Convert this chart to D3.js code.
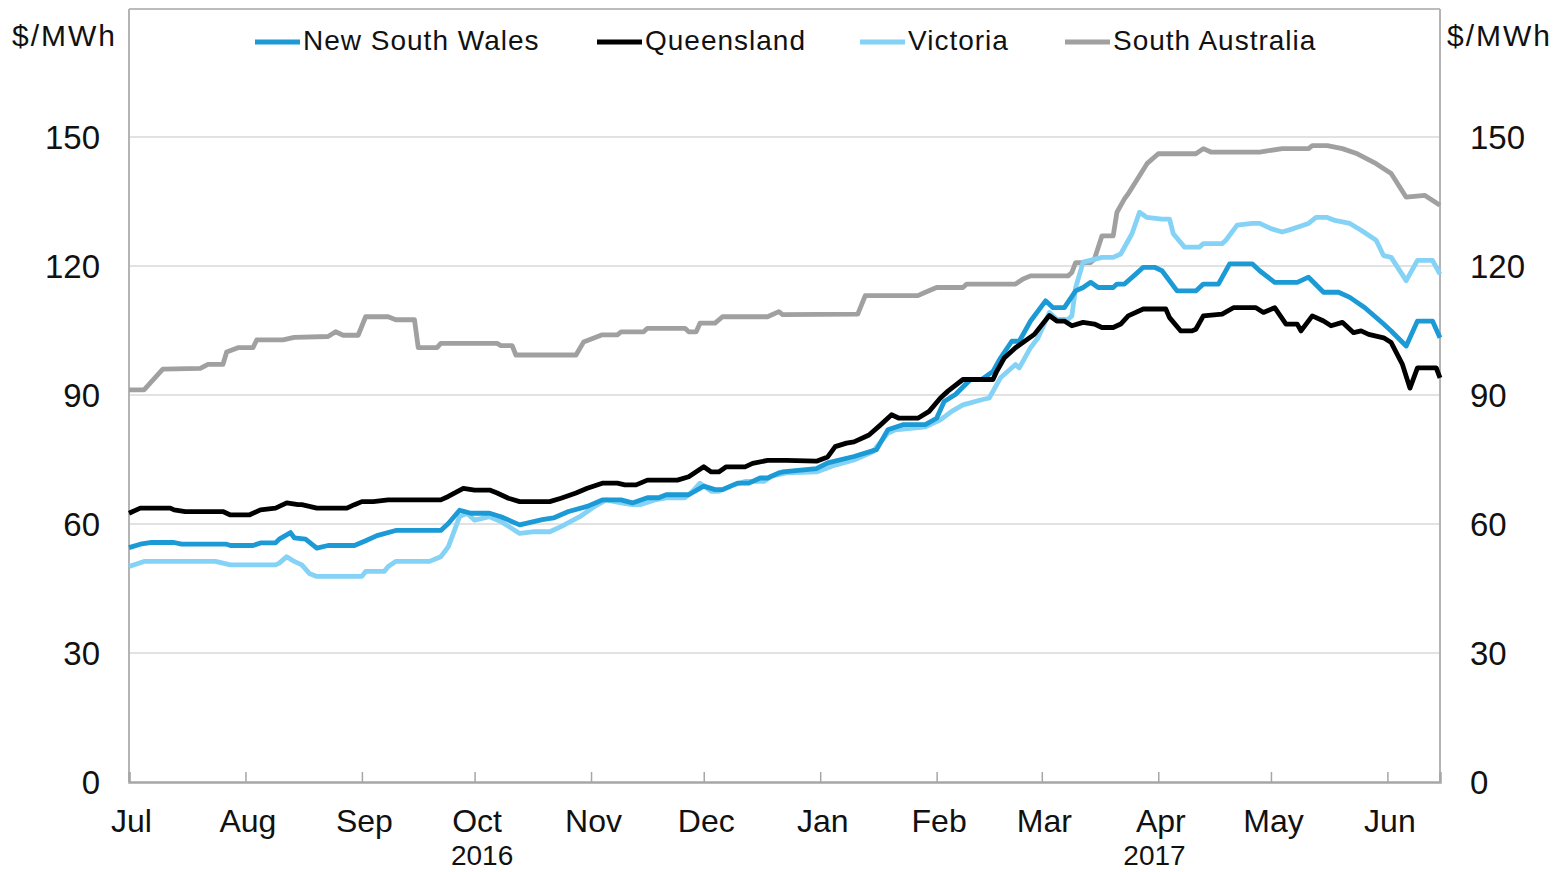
<!DOCTYPE html>
<html>
<head>
<meta charset="utf-8">
<script src="https://cdn.jsdelivr.net/npm/d3@7/dist/d3.min.js"></script>
<style>
html,body{margin:0;padding:0;background:#fff;}
svg{display:block;font-family:"Liberation Sans",Arial,sans-serif;}
</style>
</head>
<body>
<svg id="chart" width="1567" height="872"></svg>
<script>
// ---- data ----
const seriesNames = ["New South Wales", "Queensland", "Victoria", "South Australia"];
const monthLabels = ["Jul","Aug","Sep","Oct","Nov","Dec","Jan","Feb","Mar","Apr","May","Jun"];
const monthTicks = ["2016-07-01","2016-08-01","2016-09-01","2016-10-01","2016-11-01","2016-12-01",
                    "2017-01-01","2017-02-01","2017-03-01","2017-04-01","2017-05-01","2017-06-01"];
const yearLabels = [["2016","2016-10-03"],["2017","2017-03-31"]];
const yTicks = [0,30,60,90,120,150];
const dateDomain = ["2016-07-01","2017-06-15"];

const nsw = [
["2016-07-01",54.5],["2016-07-04",55.3],["2016-07-07",55.7],["2016-07-13",55.7],["2016-07-15",55.3],
["2016-07-27",55.3],["2016-07-28",55.0],["2016-08-03",55.0],["2016-08-05",55.6],["2016-08-09",55.6],
["2016-08-10",56.5],["2016-08-13",58.0],["2016-08-14",56.8],["2016-08-17",56.5],["2016-08-20",54.4],
["2016-08-23",55.0],["2016-08-30",55.0],["2016-09-02",56.1],["2016-09-05",57.3],["2016-09-10",58.5],
["2016-09-22",58.5],["2016-09-24",60.1],["2016-09-27",63.2],["2016-09-30",62.5],["2016-10-05",62.5],
["2016-10-08",61.7],["2016-10-13",59.8],["2016-10-17",60.6],["2016-10-19",61.0],["2016-10-22",61.4],
["2016-10-26",62.9],["2016-10-31",64.1],["2016-11-04",65.6],["2016-11-09",65.6],["2016-11-12",64.9],
["2016-11-16",66.1],["2016-11-19",66.1],["2016-11-21",66.8],["2016-11-27",66.8],["2016-12-01",68.8],
["2016-12-04",68.0],["2016-12-06",68.0],["2016-12-10",69.5],["2016-12-13",69.5],["2016-12-16",70.7],
["2016-12-18",70.7],["2016-12-21",71.9],["2016-12-22",72.1],["2016-12-31",72.9],["2017-01-03",74.2],
["2017-01-10",75.7],["2017-01-16",77.3],["2017-01-19",81.9],["2017-01-23",83.1],["2017-01-29",83.1],
["2017-02-01",84.6],["2017-02-03",88.5],["2017-02-06",90.1],["2017-02-10",93.6],["2017-02-13",93.6],
["2017-02-16",95.5],["2017-02-18",98.6],["2017-02-21",102.5],["2017-02-23",102.5],["2017-02-26",107.2],
["2017-03-02",111.9],["2017-03-04",110.3],["2017-03-07",110.3],["2017-03-10",114.2],["2017-03-12",115.0],
["2017-03-14",116.2],["2017-03-16",115.0],["2017-03-20",115.0],["2017-03-21",115.8],["2017-03-23",115.8],
["2017-03-26",118.1],["2017-03-28",119.7],["2017-03-31",119.7],["2017-04-02",118.9],["2017-04-06",114.2],
["2017-04-11",114.2],["2017-04-13",115.8],["2017-04-17",115.8],["2017-04-20",120.5],["2017-04-26",120.5],
["2017-04-28",118.9],["2017-05-02",116.2],["2017-05-08",116.2],["2017-05-11",117.4],["2017-05-15",113.9],
["2017-05-19",113.9],["2017-05-22",112.7],["2017-05-26",110.3],["2017-05-31",106.5],["2017-06-02",104.9],
["2017-06-06",101.4],["2017-06-09",107.2],["2017-06-13",107.2],["2017-06-15",103.3]
];

const qld = [
["2016-07-01",62.5],["2016-07-04",63.7],["2016-07-12",63.7],["2016-07-13",63.3],["2016-07-16",62.9],
["2016-07-26",62.9],["2016-07-28",62.1],["2016-08-02",62.1],["2016-08-05",63.3],["2016-08-09",63.7],
["2016-08-12",64.9],["2016-08-15",64.5],["2016-08-16",64.5],["2016-08-20",63.7],["2016-08-28",63.7],
["2016-08-30",64.5],["2016-09-01",65.2],["2016-09-04",65.2],["2016-09-08",65.6],["2016-09-22",65.6],
["2016-09-24",66.4],["2016-09-28",68.3],["2016-10-01",67.9],["2016-10-05",67.9],["2016-10-07",67.2],
["2016-10-10",66.0],["2016-10-13",65.2],["2016-10-21",65.2],["2016-10-24",66.0],["2016-10-28",67.2],
["2016-10-31",68.3],["2016-11-04",69.5],["2016-11-08",69.5],["2016-11-10",69.1],["2016-11-13",69.1],
["2016-11-16",70.2],["2016-11-24",70.2],["2016-11-27",71.0],["2016-12-01",73.3],["2016-12-03",72.1],
["2016-12-05",72.1],["2016-12-07",73.3],["2016-12-12",73.3],["2016-12-14",74.1],["2016-12-18",74.8],
["2016-12-23",74.8],["2016-12-31",74.6],["2017-01-03",75.6],["2017-01-05",78.0],["2017-01-08",78.8],
["2017-01-10",79.1],["2017-01-14",80.7],["2017-01-17",83.0],["2017-01-20",85.4],["2017-01-22",84.6],
["2017-01-27",84.6],["2017-01-30",86.2],["2017-02-02",89.3],["2017-02-04",90.9],["2017-02-08",93.6],
["2017-02-16",93.6],["2017-02-17",95.5],["2017-02-19",98.6],["2017-02-22",101.0],["2017-02-27",104.1],
["2017-03-03",108.5],["2017-03-05",107.2],["2017-03-07",107.2],["2017-03-09",106.1],["2017-03-12",106.9],
["2017-03-15",106.5],["2017-03-17",105.7],["2017-03-20",105.7],["2017-03-22",106.5],["2017-03-24",108.4],
["2017-03-28",110.0],["2017-04-03",110.0],["2017-04-04",108.0],["2017-04-07",104.9],["2017-04-10",104.9],
["2017-04-11",105.3],["2017-04-13",108.4],["2017-04-18",108.8],["2017-04-21",110.3],["2017-04-27",110.3],
["2017-04-29",109.2],["2017-05-02",110.3],["2017-05-05",106.5],["2017-05-08",106.5],["2017-05-09",104.9],
["2017-05-12",108.4],["2017-05-15",107.2],["2017-05-17",106.1],["2017-05-20",106.9],["2017-05-23",104.5],
["2017-05-25",104.9],["2017-05-27",104.1],["2017-05-31",103.3],["2017-06-02",102.2],["2017-06-05",97.1],
["2017-06-07",91.6],["2017-06-09",96.3],["2017-06-14",96.3],["2017-06-15",94.0]
];

const vic = [
["2016-07-01",50.1],["2016-07-05",51.3],["2016-07-24",51.3],["2016-07-28",50.5],["2016-08-09",50.5],
["2016-08-10",50.9],["2016-08-12",52.4],["2016-08-14",51.3],["2016-08-16",50.5],["2016-08-18",48.5],
["2016-08-20",47.8],["2016-09-01",47.8],["2016-09-02",49.0],["2016-09-07",49.0],["2016-09-08",50.1],
["2016-09-10",51.3],["2016-09-19",51.3],["2016-09-22",52.4],["2016-09-24",54.7],["2016-09-27",61.7],
["2016-09-29",62.5],["2016-10-01",60.9],["2016-10-05",61.7],["2016-10-08",60.6],["2016-10-13",57.8],
["2016-10-17",58.2],["2016-10-21",58.2],["2016-10-24",59.4],["2016-10-29",61.7],["2016-11-02",64.1],
["2016-11-05",65.6],["2016-11-09",64.9],["2016-11-12",64.5],["2016-11-14",64.5],["2016-11-18",65.6],
["2016-11-21",66.1],["2016-11-26",66.1],["2016-11-28",67.6],["2016-11-30",69.5],["2016-12-03",67.6],
["2016-12-05",67.6],["2016-12-09",69.1],["2016-12-12",69.9],["2016-12-17",69.9],["2016-12-19",71.1],
["2016-12-23",71.9],["2016-12-31",72.1],["2017-01-05",73.7],["2017-01-10",74.9],["2017-01-15",76.8],
["2017-01-19",81.1],["2017-01-21",81.9],["2017-01-29",82.6],["2017-02-02",84.2],["2017-02-05",86.2],
["2017-02-08",87.7],["2017-02-13",88.9],["2017-02-15",89.3],["2017-02-18",94.0],["2017-02-22",97.1],
["2017-02-23",96.3],["2017-02-26",101.0],["2017-02-28",103.3],["2017-03-03",109.2],["2017-03-05",107.6],
["2017-03-08",107.6],["2017-03-09",108.4],["2017-03-10",115.0],["2017-03-12",120.9],["2017-03-17",122.0],
["2017-03-20",122.0],["2017-03-22",122.8],["2017-03-25",127.5],["2017-03-27",132.5],["2017-03-29",131.3],
["2017-04-02",130.9],["2017-04-04",130.9],["2017-04-05",127.5],["2017-04-08",124.4],["2017-04-12",124.4],
["2017-04-13",125.2],["2017-04-18",125.2],["2017-04-19",126.0],["2017-04-22",129.5],["2017-04-26",129.9],
["2017-04-28",129.9],["2017-05-01",128.7],["2017-05-04",127.9],["2017-05-07",128.7],["2017-05-11",129.9],
["2017-05-13",131.3],["2017-05-16",131.3],["2017-05-18",130.6],["2017-05-22",129.9],["2017-05-25",128.3],
["2017-05-29",126.0],["2017-05-31",122.4],["2017-06-02",122.0],["2017-06-06",116.6],["2017-06-09",121.3],
["2017-06-13",121.3],["2017-06-15",118.1]
];

const sa = [
["2016-07-01",91.2],["2016-07-05",91.2],["2016-07-10",96.0],["2016-07-20",96.2],["2016-07-22",97.1],
["2016-07-26",97.1],["2016-07-27",100.0],["2016-07-30",101.0],["2016-08-03",101.0],["2016-08-04",102.8],
["2016-08-11",102.8],["2016-08-14",103.4],["2016-08-23",103.6],["2016-08-25",104.7],["2016-08-27",103.9],
["2016-08-31",103.9],["2016-09-02",108.2],["2016-09-08",108.2],["2016-09-10",107.5],["2016-09-15",107.5],
["2016-09-16",101.0],["2016-09-21",101.0],["2016-09-22",102.0],["2016-10-07",102.0],["2016-10-08",101.5],
["2016-10-11",101.5],["2016-10-12",99.3],["2016-10-28",99.3],["2016-10-30",102.3],["2016-11-04",104.0],
["2016-11-08",104.0],["2016-11-09",104.7],["2016-11-15",104.7],["2016-11-16",105.5],["2016-11-26",105.5],
["2016-11-27",104.7],["2016-11-29",104.7],["2016-11-30",106.7],["2016-12-04",106.7],["2016-12-06",108.2],
["2016-12-18",108.2],["2016-12-21",109.4],["2016-12-22",108.7],["2017-01-11",108.8],["2017-01-13",113.1],
["2017-01-27",113.1],["2017-01-29",113.9],["2017-02-01",115.0],["2017-02-08",115.0],["2017-02-09",115.8],
["2017-02-22",115.8],["2017-02-24",117.0],["2017-02-26",117.7],["2017-03-08",117.7],["2017-03-09",118.5],
["2017-03-10",120.8],["2017-03-14",120.8],["2017-03-15",121.6],["2017-03-17",127.0],["2017-03-20",127.0],
["2017-03-21",132.5],["2017-03-23",135.6],["2017-03-24",136.8],["2017-03-29",143.8],["2017-04-01",146.1],
["2017-04-11",146.1],["2017-04-13",147.3],["2017-04-15",146.5],["2017-04-28",146.5],["2017-05-04",147.3],
["2017-05-11",147.3],["2017-05-12",148.0],["2017-05-16",148.0],["2017-05-20",147.3],["2017-05-24",146.1],
["2017-05-29",143.8],["2017-06-02",141.5],["2017-06-06",136.0],["2017-06-11",136.4],["2017-06-15",134.1]
];

const seriesData = [nsw, qld, vic, sa];
const seriesColors = ["#1b9ad6", "#000000", "#84d2f6", "#a0a0a0"];
const drawOrder = [3, 2, 0, 1];

// ---- chart ----
const parse = d3.timeParse("%Y-%m-%d");
const svg = d3.select("#chart");
const L = 129, R = 1440, T = 9, B = 782;

const x = d3.scaleTime().domain(dateDomain.map(parse)).range([L, R]);
const y = d3.scaleLinear().domain([0, 150]).range([B, 137]);

// gridlines
svg.append("g").selectAll("line").data(yTicks.filter(v => v > 0)).join("line")
  .attr("x1", L).attr("x2", R)
  .attr("y1", d => y(d)).attr("y2", d => y(d))
  .attr("stroke", "#d9d9d9").attr("stroke-width", 1.5);

// frame
svg.append("line").attr("x1", L).attr("x2", R).attr("y1", T).attr("y2", T)
  .attr("stroke", "#a6a6a6").attr("stroke-width", 1.5);
svg.append("line").attr("x1", L).attr("x2", L).attr("y1", T).attr("y2", B)
  .attr("stroke", "#b4b4b4").attr("stroke-width", 2);
svg.append("line").attr("x1", R).attr("x2", R).attr("y1", T).attr("y2", B)
  .attr("stroke", "#b4b4b4").attr("stroke-width", 2);

// bottom axis
const xAxis = d3.axisBottom(x)
  .tickValues(monthTicks.map(parse))
  .tickSize(-10)
  .tickFormat((d, i) => monthLabels[i]);
const gx = svg.append("g").attr("transform", `translate(0,${B})`).call(xAxis);
gx.select(".domain").attr("stroke", "#a6a6a6").attr("stroke-width", 2.5);
gx.selectAll(".tick line").attr("stroke", "#a6a6a6").attr("stroke-width", 1.5);
gx.selectAll(".tick text")
  .attr("y", 50).attr("dy", 0).attr("dx", 2)
  .attr("fill", "#111").style("font-size", "32px")
  .style("font-family", '"Liberation Sans", Arial, sans-serif');

// year labels
svg.append("g").selectAll("text").data(yearLabels).join("text")
  .attr("x", d => x(parse(d[1])))
  .attr("y", 865)
  .attr("text-anchor", "middle")
  .attr("fill", "#111")
  .style("font-size", "28px")
  .text(d => d[0]);

// left y axis
const yAxisL = d3.axisLeft(y).tickValues(yTicks).tickSize(0).tickPadding(29);
const gyl = svg.append("g").attr("transform", `translate(${L},0)`).call(yAxisL);
gyl.select(".domain").remove();
gyl.selectAll(".tick text").attr("fill", "#111").style("font-size", "33px")
  .style("font-family", '"Liberation Sans", Arial, sans-serif').attr("dy", "0.35em");

// right y axis
const yAxisR = d3.axisRight(y).tickValues(yTicks).tickSize(0).tickPadding(30);
const gyr = svg.append("g").attr("transform", `translate(${R},0)`).call(yAxisR);
gyr.select(".domain").remove();
gyr.selectAll(".tick text").attr("fill", "#111").style("font-size", "33px")
  .style("font-family", '"Liberation Sans", Arial, sans-serif').attr("dy", "0.35em");

// unit labels
svg.append("text").attr("x", 12).attr("y", 46).attr("fill", "#111")
  .style("font-size", "30px").style("letter-spacing", "2px").text("$/MWh");
svg.append("text").attr("x", 1447).attr("y", 46).attr("fill", "#111")
  .style("font-size", "30px").style("letter-spacing", "2px").text("$/MWh");

// lines
const line = d3.line()
  .x(d => x(parse(d[0])))
  .y(d => y(d[1]))
  .curve(d3.curveLinear);

svg.append("g").selectAll("path").data(drawOrder).join("path")
  .attr("d", i => line(seriesData[i]))
  .attr("fill", "none")
  .attr("stroke", i => seriesColors[i])
  .attr("stroke-width", 4.8)
  .attr("stroke-linejoin", "round")
  .attr("stroke-linecap", "butt");

// legend
const legendX = [255, 597, 860, 1065];
const lg = svg.append("g").selectAll("g").data(seriesNames).join("g")
  .attr("transform", (d, i) => `translate(${legendX[i]},0)`);
lg.append("line").attr("x1", 0).attr("x2", 45).attr("y1", 42).attr("y2", 42)
  .attr("stroke", (d, i) => seriesColors[i]).attr("stroke-width", 5);
lg.append("text").attr("x", 48).attr("y", 50).attr("fill", "#111")
  .style("font-size", "28px").style("letter-spacing", "1px").text(d => d);
</script>
</body>
</html>
